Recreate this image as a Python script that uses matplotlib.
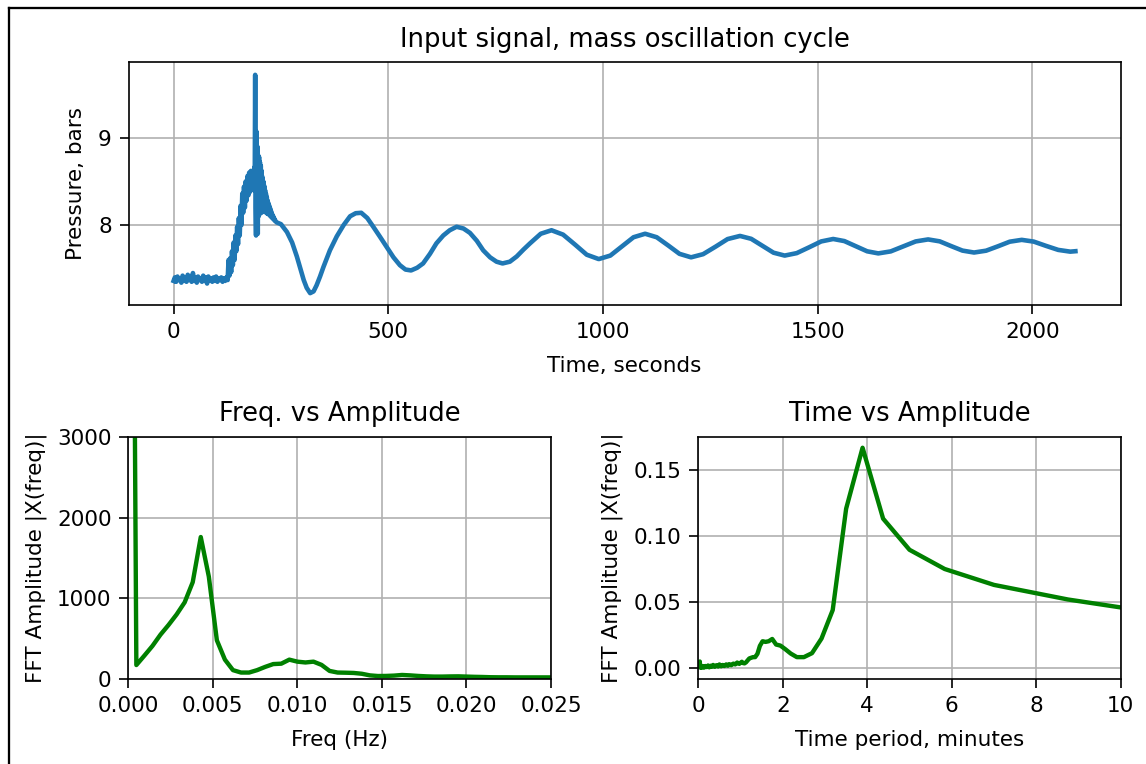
import numpy as np
import matplotlib
matplotlib.use("Agg")
import matplotlib.pyplot as plt
from matplotlib.lines import Line2D

# ---------------- data: input signal (pressure, bars) ----------------
# baseline segment, sampled every 3 s from t = 0
base_step = 3
base_vals = [7.36, 7.40, 7.35, 7.41, 7.37, 7.39, 7.34, 7.42, 7.36, 7.40, 7.35, 7.43,
             7.37, 7.41, 7.35, 7.45, 7.36, 7.40, 7.34, 7.41, 7.37, 7.39, 7.35, 7.42,
             7.36, 7.40, 7.33, 7.41, 7.37, 7.39, 7.35, 7.40, 7.36, 7.41, 7.35, 7.39,
             7.37, 7.40, 7.35, 7.39, 7.36, 7.40, 7.37]
# rising noisy segment, every 2 s from t = 126
rise_start, rise_step = 126, 2
rise_vals = [7.38, 7.60, 7.42, 7.62, 7.46, 7.70, 7.54, 7.80, 7.60, 7.88, 7.70, 7.98,
             7.78, 8.08, 7.88, 8.22, 8.00, 8.36, 8.14, 8.44, 8.20, 8.50, 8.28, 8.56,
             8.34, 8.60, 8.38, 8.62, 8.42, 8.58, 8.40, 8.66]
# spike segment, every 1 s from t = 189
spike_start, spike_step = 189, 1
spike_vals = [8.50, 9.72, 8.20, 7.88, 9.07, 8.00, 8.90, 7.90, 8.80, 8.10, 8.78, 8.12,
              8.72, 8.14, 8.68, 8.14, 8.62, 8.15, 8.55, 8.15, 8.50, 8.16, 8.45, 8.15,
              8.40, 8.15, 8.36, 8.14, 8.32, 8.13, 8.28, 8.13, 8.25, 8.12, 8.22, 8.11,
              8.19, 8.10, 8.16, 8.09, 8.13, 8.08, 8.11, 8.07, 8.09, 8.06, 8.07, 8.05,
              8.05, 8.04]
# smooth mass-oscillation segment
smooth_t = [240, 250, 264, 276, 287, 296, 303, 310, 318, 326, 333, 341, 349, 364, 380,
            396, 411, 424, 437, 451, 465, 480, 496, 512, 527, 540, 553, 567, 581, 597,
            612, 628, 643, 659, 675, 690, 706, 721, 737, 752, 766, 783, 799, 815, 830,
            855, 880, 907, 935, 962, 990, 1017, 1044, 1071, 1098, 1125, 1152, 1178,
            1205, 1233, 1262, 1290, 1319, 1345, 1371, 1397, 1423, 1451, 1480, 1508,
            1536, 1562, 1589, 1615, 1641, 1670, 1699, 1728, 1757, 1784, 1810, 1837,
            1864, 1892, 1920, 1947, 1975, 2003, 2031, 2060, 2088, 2100]
smooth_p = [8.03, 8.01, 7.92, 7.80, 7.64, 7.49, 7.37, 7.28, 7.22, 7.24, 7.31, 7.41,
            7.52, 7.71, 7.87, 8.00, 8.10, 8.135, 8.14, 8.08, 7.98, 7.87, 7.75, 7.63,
            7.54, 7.49, 7.48, 7.51, 7.56, 7.67, 7.79, 7.88, 7.94, 7.98, 7.96, 7.91,
            7.82, 7.71, 7.63, 7.58, 7.56, 7.58, 7.64, 7.72, 7.79, 7.90, 7.94, 7.89,
            7.775, 7.66, 7.61, 7.65, 7.755, 7.86, 7.90, 7.86, 7.765, 7.67, 7.63,
            7.666, 7.752, 7.839, 7.875, 7.842, 7.762, 7.683, 7.65, 7.678, 7.745,
            7.812, 7.84, 7.816, 7.757, 7.699, 7.675, 7.698, 7.755, 7.812, 7.835,
            7.813, 7.76, 7.707, 7.685, 7.706, 7.757, 7.809, 7.83, 7.81, 7.762,
            7.715, 7.695, 7.70]

# ---------------- data: FFT amplitude vs frequency ----------------
freq_hz = [0.0, 0.000476, 0.000952, 0.001429, 0.001905, 0.002381, 0.002857, 0.003333,
           0.003810, 0.004286, 0.004762, 0.005238, 0.005714, 0.006190, 0.006667,
           0.007143, 0.007619, 0.008095, 0.008571, 0.009048, 0.009524, 0.010000,
           0.010476, 0.010952, 0.011429, 0.011905, 0.012381, 0.012857, 0.013333,
           0.013810, 0.014286, 0.014762, 0.015238, 0.015714, 0.016190, 0.016667,
           0.017143, 0.017619, 0.018095, 0.018571, 0.019048, 0.019524, 0.020000,
           0.020476, 0.020952, 0.021429, 0.021905, 0.022381, 0.022857, 0.023333,
           0.023810, 0.024286, 0.024762, 0.025238]
fft_amp = [16170, 173, 290, 410, 550, 670, 800, 950, 1200, 1760, 1270, 480, 240, 110,
           80, 80, 110, 150, 185, 190, 240, 215, 205, 215, 175, 100, 80, 78, 75, 65,
           45, 37, 38, 42, 50, 45, 38, 33, 30, 30, 32, 33, 30, 27, 25, 22, 21, 21,
           20, 20, 20, 20, 20, 20]

# ---------------- data: FFT amplitude vs period (minutes) ----------------
period_min = [0.034, 0.036, 0.040, 0.045, 0.05, 0.06, 0.07, 0.08, 0.10, 0.12, 0.14,
              0.17, 0.20, 0.23, 0.26, 0.29, 0.32, 0.35, 0.39, 0.43, 0.47, 0.50, 0.54,
              0.58, 0.62, 0.66, 0.70, 0.73, 0.78, 0.83, 0.875, 0.92, 0.97, 1.0, 1.03,
              1.06, 1.094, 1.13, 1.167, 1.207, 1.25, 1.296, 1.346, 1.4, 1.458, 1.522,
              1.591, 1.667, 1.75, 1.842, 1.944, 2.059, 2.188, 2.333, 2.5, 2.692,
              2.917, 3.182, 3.5, 3.889, 4.375, 5.0, 5.833, 7.0, 8.75, 11.667]
period_amp = [0.0010, 0.0052, 0.0015, 0.0030, 0.0008, 0.0020, 0.0006, 0.0018, 0.0008,
              0.0016, 0.0006, 0.0018, 0.0010, 0.0022, 0.0008, 0.0020, 0.0012, 0.0026,
              0.0012, 0.0024, 0.0014, 0.0030, 0.0016, 0.0026, 0.0018, 0.0030, 0.0020,
              0.0032, 0.0024, 0.0036, 0.0030, 0.0044, 0.0034, 0.0042, 0.0050, 0.0040,
              0.0038, 0.0046, 0.0060, 0.0075, 0.0080, 0.0085, 0.0085, 0.0110, 0.0170,
              0.0205, 0.0200, 0.0205, 0.0222, 0.0180, 0.0172, 0.0145, 0.0112, 0.0085,
              0.0085, 0.0115, 0.0225, 0.0440, 0.1205, 0.1665, 0.1130, 0.0895, 0.0750,
              0.0630, 0.0520, 0.0380]

# ---------------- assemble signal ----------------
t_sig = np.concatenate([
    base_step * np.arange(len(base_vals)),
    rise_start + rise_step * np.arange(len(rise_vals)),
    spike_start + spike_step * np.arange(len(spike_vals)),
    np.array(smooth_t, dtype=float),
])
p_sig = np.concatenate([base_vals, rise_vals, spike_vals, smooth_p])

plt.rcParams.update({
    "font.size": 10.3,
    "xtick.major.size": 4.5,
    "ytick.major.size": 4.5,
})

W, H, DPI = 1146, 764, 150
fig = plt.figure(figsize=(W / DPI, H / DPI), dpi=DPI)
fig.patch.set_facecolor("white")

def rect(x0, y0, x1, y1):
    return [x0 / W, 1 - y1 / H, (x1 - x0) / W, (y1 - y0) / H]

ax1 = fig.add_axes(rect(128.5, 62, 1120.5, 305))
ax2 = fig.add_axes(rect(128.3, 437, 551, 679))
ax3 = fig.add_axes(rect(698.3, 437, 1120.7, 679))

TS = 12.4
XP, YP = 6.8, 5.0
ax1.plot(t_sig, p_sig, color="#1f77b4", lw=2.2)
ax1.set_ylim(7.084, 9.867)
ax1.set_yticks([8, 9])
ax1.set_title("Input signal, mass oscillation cycle", fontsize=TS, pad=7)
ax1.set_xlabel("Time, seconds", labelpad=XP)
ax1.set_ylabel("Pressure, bars", labelpad=YP + 1)
ax1.grid(True)

ax2.plot(freq_hz, fft_amp, color="green", lw=2.1)
ax2.set_xlim(0, 0.025)
ax2.set_ylim(0, 3000)
ax2.set_title("Freq. vs Amplitude", fontsize=TS, pad=7.5)
ax2.set_xlabel("Freq (Hz)", labelpad=XP)
ax2.set_ylabel("FFT Amplitude |X(freq)|", labelpad=YP)
ax2.grid(True)

ax3.plot(period_min, period_amp, color="green", lw=2.1)
ax3.set_xlim(0, 10)
ax3.set_ylim(-0.0080, 0.1746)
ax3.set_yticks([0.0, 0.05, 0.10, 0.15])
ax3.set_title("Time vs Amplitude", fontsize=TS, pad=7.5)
ax3.set_xlabel("Time period, minutes", labelpad=XP)
ax3.set_ylabel("FFT Amplitude |X(freq)|", labelpad=YP)
ax3.grid(True)

# frame around the figure (left and top edges visible in the crop)
xb = 8.5 / W
yb = 1 - 7.5 / H
fig.add_artist(Line2D([xb, xb], [0, yb], transform=fig.transFigure, color="black", lw=1.1))
fig.add_artist(Line2D([xb, 1], [yb, yb], transform=fig.transFigure, color="black", lw=1.1))

fig.savefig("out.png", dpi=DPI)
